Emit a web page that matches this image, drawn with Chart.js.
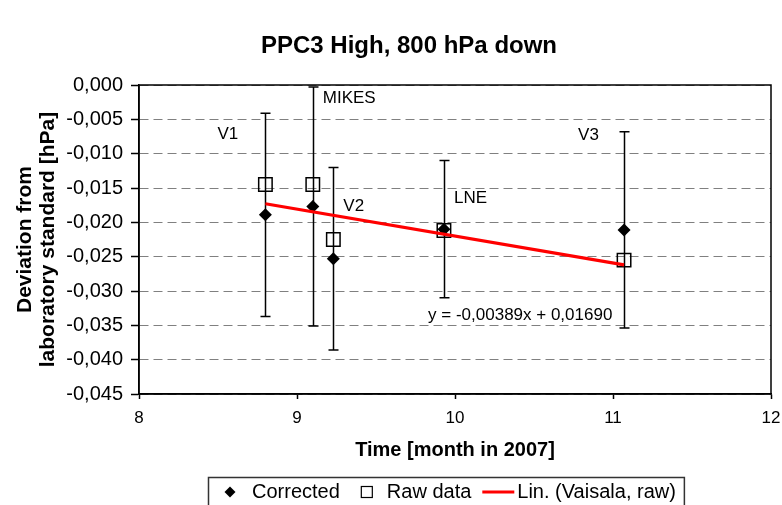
<!DOCTYPE html>
<html>
<head>
<meta charset="utf-8">
<script src="https://cdn.jsdelivr.net/npm/chart.js@4.4.0/dist/chart.umd.min.js"></script>
<style>
  html, body { margin: 0; padding: 0; background: #fff; }
</style>
</head>
<body>
<canvas id="chart" width="782" height="505"></canvas>
<script>
// values
var months = [8.80, 9.10, 9.23, 9.93, 11.07];
var corrected = [-0.0189, -0.0177, -0.0253, -0.0210, -0.0211];
var rawData = [-0.0145, -0.0145, -0.0225, -0.0212, -0.0255];
var uncertainty = [0.0148, 0.0174, 0.0133, 0.0100, 0.0143];
var labs = ['V1', 'MIKES', 'V2', 'LNE', 'V3'];
var trendX = [8.80, 11.07];
var trendY = [-0.0173, -0.0262];
var trendText = 'y = -0,00389x + 0,01690';
var legendNames = ['Corrected', 'Raw data', 'Lin. (Vaisala, raw)'];
var chartTitle = 'PPC3 High, 800 hPa down';
var xTitle = 'Time [month in 2007]';
var yTitle = ['Deviation from', 'laboratory standard [hPa]'];

var FONT = '"Liberation Sans", Arial, sans-serif';

// pixel offsets of the lab names from their corrected point
var labOffsets = [[-48, -80], [10, -108], [10, -52], [10, -31], [-46, -95]];

function fmt(v) {
  return Math.abs(v) < 1e-9 ? '0,000' : v.toFixed(3).replace('.', ',');
}

function pts(xs, ys) {
  var out = [];
  for (var i = 0; i < xs.length; i++) out.push({x: xs[i], y: ys[i]});
  return out;
}

var errorBars = {
  id: 'errorBars',
  beforeDatasetsDraw: function (chart) {
    var c = chart.ctx, xs = chart.scales.x, ys = chart.scales.y;
    c.save();
    c.strokeStyle = '#000';
    c.lineWidth = 1.5;
    for (var i = 0; i < months.length; i++) {
      var px = Math.round(xs.getPixelForValue(months[i])) + 0.5;
      var t = ys.getPixelForValue(corrected[i] + uncertainty[i]);
      var b = ys.getPixelForValue(corrected[i] - uncertainty[i]);
      c.beginPath();
      c.moveTo(px, t); c.lineTo(px, b);
      c.moveTo(px - 5, t); c.lineTo(px + 5, t);
      c.moveTo(px - 5, b); c.lineTo(px + 5, b);
      c.stroke();
    }
    c.restore();
  }
};

var extras = {
  id: 'extras',
  afterDraw: function (chart) {
    var c = chart.ctx, xs = chart.scales.x, ys = chart.scales.y, a = chart.chartArea;
    c.save();
    // plot frame
    c.strokeStyle = '#000';
    c.lineWidth = 1.5;
    c.strokeRect(a.left, a.top, a.right - a.left, a.bottom - a.top);

    // lab names
    c.fillStyle = '#000';
    c.font = '17px ' + FONT;
    c.textBaseline = 'middle';
    c.textAlign = 'left';
    for (var i = 0; i < labs.length; i++) {
      var px = xs.getPixelForValue(months[i]);
      var py = ys.getPixelForValue(corrected[i]);
      c.fillText(labs[i], px + labOffsets[i][0], py + labOffsets[i][1]);
    }
    // trend equation
    var ex = xs.getPixelForValue(trendX[1]), ey = ys.getPixelForValue(trendY[1]);
    c.fillText(trendText, ex - 196, ey + 50);

    // title
    c.font = 'bold 24px ' + FONT;
    c.textAlign = 'center';
    c.fillText(chartTitle, 409, 46);

    // legend
    c.font = '20px ' + FONT;
    c.textAlign = 'left';
    var ly = 492, x0 = 208;
    var w0 = c.measureText(legendNames[0]).width;
    var w1 = c.measureText(legendNames[1]).width;
    var w2 = c.measureText(legendNames[2]).width;
    c.fillStyle = '#000';
    c.beginPath();
    c.moveTo(x0 + 22, ly - 5.5); c.lineTo(x0 + 27.5, ly); c.lineTo(x0 + 22, ly + 5.5); c.lineTo(x0 + 16.5, ly);
    c.closePath(); c.fill();
    var tx = x0 + 44;
    c.fillText(legendNames[0], tx, ly);
    tx += w0 + 27;
    c.strokeStyle = '#000'; c.lineWidth = 1.2;
    c.strokeRect(tx - 5.5, ly - 5.5, 11, 11);
    tx += 20;
    c.fillText(legendNames[1], tx, ly);
    tx += w1 + 11;
    c.strokeStyle = '#ff0000'; c.lineWidth = 3;
    c.beginPath(); c.moveTo(tx, ly); c.lineTo(tx + 32, ly); c.stroke();
    tx += 35;
    c.fillText(legendNames[2], tx, ly);
    tx += w2 + 8;
    c.strokeStyle = '#333'; c.lineWidth = 1.5;
    c.strokeRect(x0 + 0.5, 477.5, tx - x0, 60);
    c.restore();
  }
};

var ctx = document.getElementById('chart').getContext('2d');
var chart = new Chart(ctx, {
  type: 'scatter',
  data: {
    datasets: [
      {
        label: legendNames[2],
        data: pts(trendX, trendY),
        showLine: true,
        borderColor: '#ff0000',
        backgroundColor: '#ff0000',
        borderWidth: 3.2,
        pointRadius: 0
      }, {
        label: legendNames[0],
        data: pts(months, corrected),
        pointStyle: 'rectRot',
        pointRadius: 6.5,
        backgroundColor: '#000',
        borderColor: '#000',
        borderWidth: 0
      }, {
        label: legendNames[1],
        data: pts(months, rawData),
        pointStyle: 'rect',
        pointRadius: 9.5,
        backgroundColor: 'rgba(0,0,0,0)',
        borderColor: '#000',
        borderWidth: 1.5
      }]
  },
  options: {
    responsive: false,
    animation: false,
    devicePixelRatio: 1,
    layout: {padding: {left: 0, right: 0, top: 85, bottom: 39}},
    plugins: {
      legend: {display: false},
      title: {display: false},
      tooltip: {enabled: false}
    },
    scales: {
      x: {
        type: 'linear',
        min: 8, max: 12,
        afterFit: function (s) { s.height = 72; s.paddingRight = 9; s.paddingLeft = 0; },
        ticks: {stepSize: 1, color: '#000', font: {family: FONT, size: 17}, padding: 9, maxRotation: 0},
        grid: {drawOnChartArea: false, tickLength: 5, tickColor: '#000', tickWidth: 1.5},
        border: {color: '#000', width: 1.5},
        title: {display: true, text: xTitle, color: '#000', padding: {top: 4, bottom: 4},
          font: {family: FONT, size: 20, weight: 'bold'}}
      },
      y: {
        min: -0.045, max: 0,
        afterFit: function (s) { s.width = 139; },
        ticks: {stepSize: 0.005, color: '#000', font: {family: FONT, size: 20}, padding: 8,
          callback: function (v) { return fmt(v); }},
        grid: {color: '#808080', lineWidth: 1, tickLength: 8, tickColor: '#000', tickWidth: 1.5},
        border: {color: '#000', width: 1.5, dash: [9, 5]},
        title: {display: true, text: yTitle, color: '#000', padding: {top: 13.5, bottom: 4},
          font: {family: FONT, size: 21, weight: 'bold', lineHeight: 1.1}}
      }
    }
  },
  plugins: [errorBars, extras]
});
</script>
</body>
</html>
